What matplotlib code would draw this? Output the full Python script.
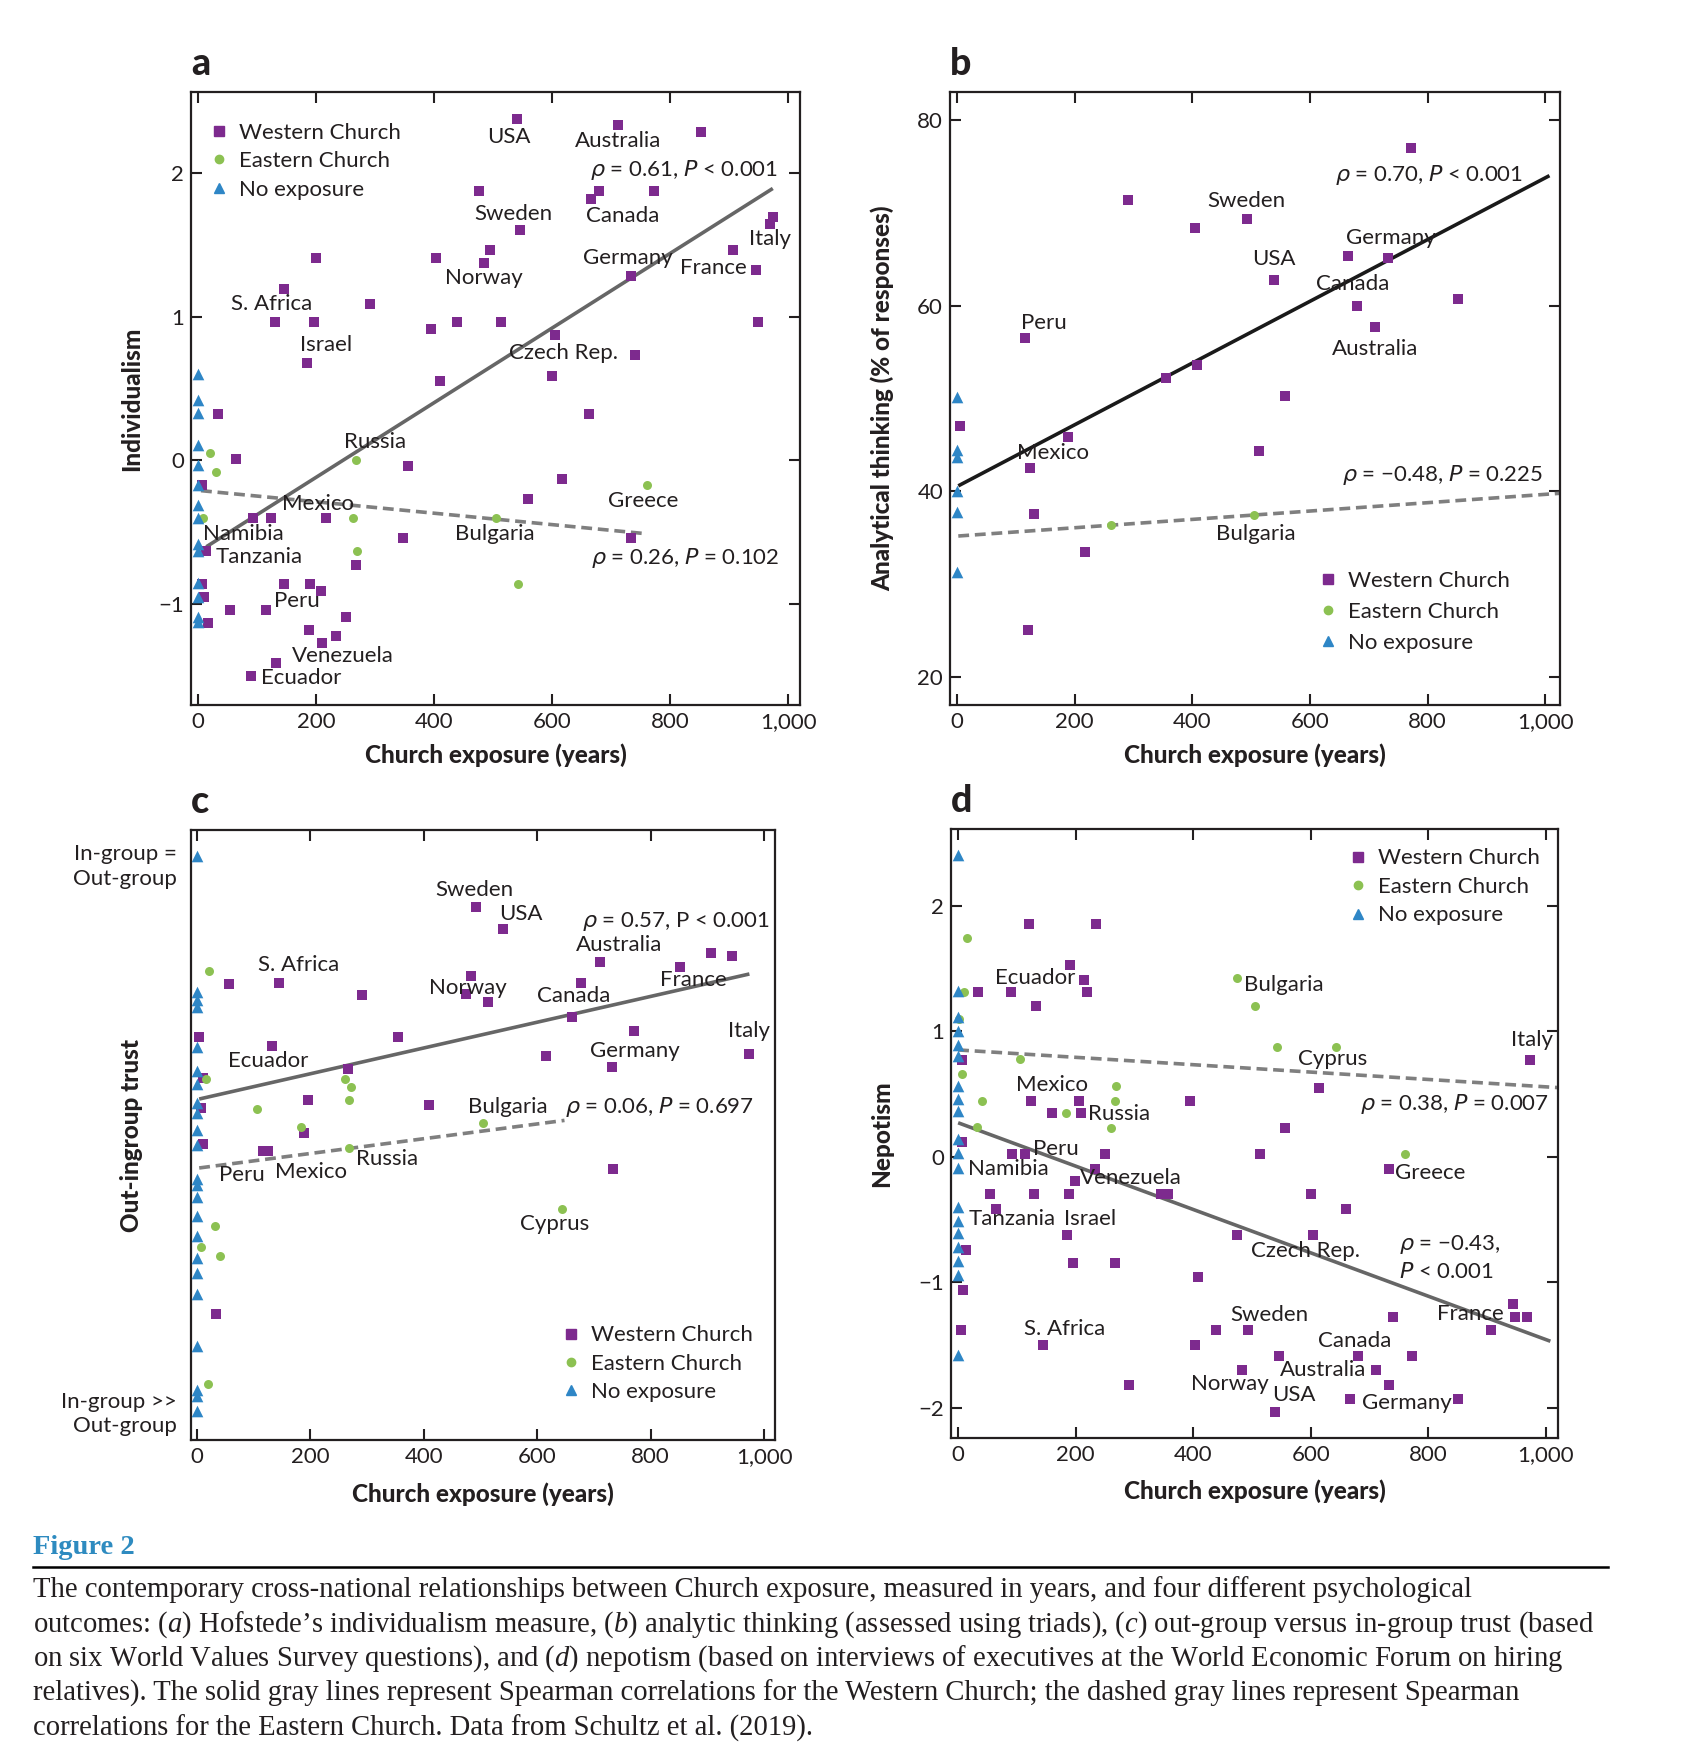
import numpy as np
import matplotlib
matplotlib.use("Agg")
import matplotlib.pyplot as plt
from matplotlib.lines import Line2D

plt.rcParams['font.family'] = ['Lato', 'DejaVu Sans']
plt.rcParams['mathtext.fontset'] = 'custom'
plt.rcParams['mathtext.rm'] = 'Liberation Serif'
plt.rcParams['mathtext.it'] = 'Liberation Serif:italic'

PURPLE = '#7d2a8e'
GREEN = '#8cc152'
BLUE = '#2e86c6'
INK = '#231f20'

# ---- panel a: individualism ----
a_west_x = [540, 712, 853, 476, 666, 680, 773, 546, 975, 970, 200, 404, 494, 485, 907, 945,
            733, 145, 291, 130, 196, 439, 514, 394, 949, 605, 741, 184, 600, 410, 33, 663,
            64, 356, 7, 616, 560, 93, 124, 216, 347, 734, 14, 267, 6, 145, 190, 208, 10,
            54, 116, 17, 250, 188, 233, 210, 132, 90]
a_west_y = [2.37, 2.33, 2.28, 1.87, 1.82, 1.87, 1.87, 1.60, 1.69, 1.64, 1.41, 1.41, 1.46, 1.37,
            1.46, 1.32, 1.28, 1.19, 1.09, 0.96, 0.96, 0.96, 0.96, 0.91, 0.96, 0.87, 0.73, 0.68,
            0.59, 0.55, 0.32, 0.32, 0.01, -0.04, -0.17, -0.13, -0.27, -0.40, -0.40, -0.40,
            -0.54, -0.54, -0.63, -0.73, -0.86, -0.86, -0.86, -0.91, -0.95, -1.04, -1.04,
            -1.13, -1.09, -1.18, -1.22, -1.27, -1.41, -1.50]
a_east_x = [21, 31, 8, 267, 262, 270, 505, 543, 761]
a_east_y = [0.05, -0.08, -0.40, 0.0, -0.40, -0.63, -0.40, -0.86, -0.17]
a_none_y = [0.60, 0.42, 0.33, 0.11, -0.03, -0.17, -0.31, -0.40, -0.58, -0.63, -0.85, -0.95,
            -1.09, -1.12]
a_fit_west = ([14, 974], [-0.60, 1.89])
a_fit_east = ([5, 761], [-0.21, -0.51])
a_labels = [('USA', 526, 2.25), ('Australia', 712, 2.22), ('Sweden', 534, 1.71),
            ('Canada', 719, 1.70), ('Italy', 970, 1.54), ('Germany', 728, 1.41),
            ('France', 874, 1.34), ('Norway', 484, 1.27), ('S. Africa', 124, 1.09),
            ('Israel', 217, 0.80), ('Czech Rep.', 619, 0.75), ('Russia', 300, 0.13),
            ('Greece', 754, -0.28), ('Mexico', 204, -0.30), ('Namibia', 77, -0.51),
            ('Bulgaria', 503, -0.51), ('Tanzania', 103, -0.67), ('Peru', 167, -0.98),
            ('Venezuela', 245, -1.36), ('Ecuador', 175, -1.51)]

# ---- panel b: analytic thinking ----
b_west_x = [771, 290, 404, 493, 665, 732, 538, 679, 851, 711, 115, 355, 408, 558, 5, 189,
            513, 124, 130, 217, 120]
b_west_y = [77.0, 71.4, 68.4, 69.3, 65.4, 65.1, 62.8, 60.0, 60.7, 57.7, 56.5, 52.2, 53.6,
            50.3, 47.0, 45.9, 44.4, 42.5, 37.6, 33.5, 25.1]
b_east_x = [262, 505]
b_east_y = [36.4, 37.5]
b_none_y = [50.2, 44.5, 43.7, 40.0, 37.8, 31.3]
b_fit_west = ([2, 1007], [40.6, 74.0])
b_fit_east = ([2, 1025], [35.2, 39.8])
b_labels = [('Sweden', 491, 71.3), ('Germany', 737, 67.3), ('USA', 539, 65.0),
            ('Canada', 673, 62.3), ('Peru', 148, 58.1), ('Australia', 710, 55.3),
            ('Mexico', 163, 44.1), ('Bulgaria', 508, 35.4)]

# ---- panel c: out-ingroup trust (0 = in-group >> out-group, 1 = equal) ----
c_west_x = [492, 539, 710, 907, 944, 852, 484, 678, 56, 145, 291, 474, 514, 662, 4, 355, 771,
            133, 974, 616, 732, 267, 10, 196, 8, 410, 189, 10, 116, 125, 734, 33]
c_west_y = [0.874, 0.838, 0.784, 0.798, 0.794, 0.776, 0.761, 0.750, 0.748, 0.750, 0.730,
            0.731, 0.718, 0.694, 0.661, 0.661, 0.670, 0.646, 0.633, 0.630, 0.611, 0.608,
            0.594, 0.557, 0.545, 0.549, 0.504, 0.486, 0.474, 0.474, 0.444, 0.206]
c_east_x = [22, 16, 261, 271, 268, 106, 183, 505, 268, 643, 32, 7, 40, 19]
c_east_y = [0.769, 0.592, 0.592, 0.578, 0.558, 0.542, 0.513, 0.519, 0.478, 0.378, 0.351,
            0.316, 0.301, 0.092]
c_none_y = [0.958, 0.735, 0.722, 0.710, 0.644, 0.605, 0.584, 0.552, 0.536, 0.508, 0.484,
            0.428, 0.418, 0.399, 0.367, 0.334, 0.299, 0.274, 0.240, 0.154, 0.082, 0.072, 0.047]
c_fit_west = ([4, 974], [0.559, 0.764])
c_fit_east = ([4, 648], [0.446, 0.524])
c_labels = [('Sweden', 489, 0.902), ('USA', 571, 0.862), ('Australia', 745, 0.812),
            ('S. Africa', 180, 0.778), ('Norway', 478, 0.741), ('Canada', 664, 0.728),
            ('France', 875, 0.754), ('Italy', 973, 0.671), ('Germany', 772, 0.638),
            ('Ecuador', 126, 0.621), ('Bulgaria', 548, 0.546), ('Russia', 335, 0.460),
            ('Mexico', 201, 0.440), ('Peru', 80, 0.434), ('Cyprus', 631, 0.354)]

# ---- panel d: nepotism ----
d_west_x = [121, 235, 191, 215, 33, 90, 220, 132, 974, 6, 614, 124, 206, 394, 159, 209, 557,
            7, 92, 114, 250, 514, 233, 199, 733, 54, 129, 188, 345, 357, 601, 65, 661, 185,
            475, 604, 13, 196, 267, 409, 8, 944, 740, 948, 969, 5, 439, 493, 907, 145, 404,
            546, 680, 773, 484, 711, 291, 733, 667, 851, 539]
d_west_y = [1.85, 1.85, 1.53, 1.41, 1.31, 1.31, 1.31, 1.20, 0.77, 0.77, 0.55, 0.44, 0.44,
            0.44, 0.35, 0.35, 0.23, 0.12, 0.02, 0.02, 0.02, 0.02, -0.10, -0.19, -0.10, -0.30,
            -0.30, -0.30, -0.30, -0.30, -0.30, -0.42, -0.42, -0.62, -0.62, -0.62, -0.74,
            -0.85, -0.85, -0.96, -1.06, -1.17, -1.28, -1.28, -1.28, -1.38, -1.38, -1.38,
            -1.38, -1.50, -1.50, -1.59, -1.59, -1.59, -1.70, -1.70, -1.82, -1.82, -1.93,
            -1.93, -2.03]
d_east_x = [15, 10, 2, 475, 506, 542, 643, 106, 6, 269, 40, 267, 183, 261, 32, 760]
d_east_y = [1.74, 1.31, 1.10, 1.42, 1.20, 0.87, 0.87, 0.78, 0.66, 0.56, 0.44, 0.44, 0.35,
            0.23, 0.24, 0.02]
d_none_y = [2.40, 1.32, 1.11, 1.00, 0.89, 0.80, 0.56, 0.46, 0.36, 0.14, 0.03, -0.09, -0.40,
            -0.51, -0.61, -0.72, -0.83, -0.94, -1.58]
d_fit_west = ([0, 1008], [0.27, -1.47])
d_fit_east = ([0, 1021], [0.85, 0.55])
d_labels = [('Ecuador', 131, 1.42), ('Bulgaria', 555, 1.37), ('Italy', 976, 0.93),
            ('Cyprus', 637, 0.78), ('Mexico', 159, 0.57), ('Russia', 274, 0.34),
            ('Peru', 166, 0.06), ('Namibia', 86, -0.10), ('Venezuela', 294, -0.17),
            ('Greece', 803, -0.13), ('Tanzania', 92, -0.50), ('Israel', 224, -0.50),
            ('Czech Rep.', 592, -0.75), ('Sweden', 530, -1.26), ('France', 872, -1.25),
            ('S. Africa', 181, -1.37), ('Canada', 675, -1.47), ('Australia', 622, -1.70),
            ('Norway', 463, -1.81), ('USA', 572, -1.90), ('Germany', 763, -1.96)]

xticks = [0, 200, 400, 600, 800, 1000]
xticklabels = ['0', '200', '400', '600', '800', '1,000']

FS = 16
LABEL_W = 'black'


def draw_panel(ax, wx, wy, ex, ey, ny, fit_w, fit_e, labels, west_color='#666666'):
    ax.plot(fit_w[0], fit_w[1], color=west_color, lw=2.6, solid_capstyle='butt', zorder=2)
    ax.plot(fit_e[0], fit_e[1], color='#7f7f7f', lw=2.6, ls=(0, (3, 1.6)), zorder=2)
    ax.scatter(wx, wy, marker='s', s=62, color=PURPLE, linewidths=0, zorder=3)
    ax.scatter(ex, ey, marker='o', s=42, color=GREEN, linewidths=0, zorder=3)
    ax.scatter(np.zeros(len(ny)), ny, marker='^', s=70, color=BLUE, linewidths=0, zorder=3)
    for t, x, y in labels:
        ax.text(x, y, t, ha='center', va='center', fontsize=FS, color=INK, zorder=4)
    ax.set_xlim(-12, 1020)
    ax.set_xticks(xticks)
    ax.set_xticklabels(xticklabels)
    ax.tick_params(direction='in', length=8, width=1.5, labelsize=FS, colors=INK,
                   top=True, right=True, pad=5)
    for s in ax.spines.values():
        s.set_linewidth(1.6)
        s.set_color(INK)
    ax.set_xlabel('Church exposure (years)', fontsize=17.5, fontweight=LABEL_W, color=INK)


def add_legend(ax, x, y, spacing=0.38):
    handles = [Line2D([], [], ls='none', marker='s', ms=7, color=PURPLE),
               Line2D([], [], ls='none', marker='o', ms=6, color=GREEN),
               Line2D([], [], ls='none', marker='^', ms=7.5, color=BLUE)]
    ax.legend(handles, ['Western Church', 'Eastern Church', 'No exposure'],
              loc='upper left', bbox_to_anchor=(x, y), frameon=False, fontsize=FS,
              handlelength=0.6, handletextpad=0.6, labelspacing=spacing, borderpad=0,
              borderaxespad=0, labelcolor=INK)


def stat(ax, x, y, s, ha='left'):
    ax.text(x, y, s, ha=ha, va='center', fontsize=FS, color=INK, math_fontfamily='dejavusans')


fig = plt.figure(figsize=(17.02, 17.6), dpi=100)
axa = fig.add_axes([0.1122, 0.5994, 0.3578, 0.3483])
axb = fig.add_axes([0.5582, 0.5994, 0.3584, 0.3483])
axc = fig.add_axes([0.1122, 0.1818, 0.3431, 0.3466])
axd = fig.add_axes([0.5588, 0.1830, 0.3566, 0.3460])

# a
draw_panel(axa, a_west_x, a_west_y, a_east_x, a_east_y, a_none_y, a_fit_west, a_fit_east, a_labels)
axa.set_ylim(-1.70, 2.56)
axa.set_yticks([-1, 0, 1, 2])
axa.set_ylabel('Individualism', fontsize=17.5, fontweight=LABEL_W, color=INK)
axa.yaxis.set_label_coords(-0.078, 0.5)
axa.xaxis.set_label_coords(0.5, -0.062)
stat(axa, 983, 2.02, r'$\rho$ = 0.61, $P$ < 0.001', ha='right')
stat(axa, 985, -0.68, r'$\rho$ = 0.26, $P$ = 0.102', ha='right')
add_legend(axa, 0.035, 0.950)

# b
draw_panel(axb, b_west_x, b_west_y, b_east_x, b_east_y, b_none_y, b_fit_west, b_fit_east, b_labels,
           west_color='#1a1a1a')
axb.set_xlim(-12, 1025)
axb.set_ylim(17.0, 83.0)
axb.set_yticks([20, 40, 60, 80])
axb.set_ylabel('Analytical thinking (% of responses)', fontsize=17.5, fontweight=LABEL_W,
               color=INK)
axb.yaxis.set_label_coords(-0.092, 0.5)
axb.xaxis.set_label_coords(0.5, -0.062)
stat(axb, 642, 74.1, r'$\rho$ = 0.70, $P$ < 0.001')
stat(axb, 655, 41.8, r'$\rho$ = −0.48, $P$ = 0.225')
add_legend(axb, 0.608, 0.219, spacing=0.5)

# c
draw_panel(axc, c_west_x, c_west_y, c_east_x, c_east_y, c_none_y, c_fit_west, c_fit_east, c_labels)
axc.set_xlim(-10.5, 1019)
axc.set_ylim(0, 1)
axc.set_yticks([0.948, 0.05])
axc.set_yticklabels(['In-group =\nOut-group', 'In-group >>\nOut-group'], ha='right',
                    linespacing=1.3)
axc.tick_params(axis='y', length=0, right=False, pad=10)
axc.set_ylabel('Out-ingroup trust', fontsize=17.5, fontweight=LABEL_W, color=INK)
axc.yaxis.set_label_coords(-0.082, 0.5)
axc.xaxis.set_label_coords(0.5, -0.07)
stat(axc, 1010, 0.850, r'$\rho$ = 0.57, P < 0.001', ha='right')
stat(axc, 816, 0.546, r'$\rho$ = 0.06, $P$ = 0.697', ha='center')
add_legend(axc, 0.64, 0.188)

# d
draw_panel(axd, d_west_x, d_west_y, d_east_x, d_east_y, d_none_y, d_fit_west, d_fit_east, d_labels)
axd.set_xlim(-12, 1021)
axd.set_ylim(-2.24, 2.61)
axd.set_yticks([-2, -1, 0, 1, 2])
axd.set_ylabel('Nepotism', fontsize=17.5, fontweight=LABEL_W, color=INK)
axd.yaxis.set_label_coords(-0.095, 0.5)
axd.xaxis.set_label_coords(0.5, -0.068)
stat(axd, 844, 0.42, r'$\rho$ = 0.38, $P$ = 0.007', ha='center')
stat(axd, 751, -0.70, r'$\rho$ = −0.43,')
stat(axd, 751, -0.92, r'$P$ < 0.001')
add_legend(axd, 0.66, 0.968)

for ax, letter in [(axa, 'a'), (axb, 'b'), (axc, 'c'), (axd, 'd')]:
    ax.text(0.0, 1.018, letter, transform=ax.transAxes, fontsize=27, fontweight=LABEL_W,
            color=INK, ha='left', va='bottom')

# caption
serif = ['Liberation Serif', 'DejaVu Serif']
fig.text(0.0195, 1 - 1547 / 1760, 'Figure 2', family=serif, fontsize=20.5, fontweight='bold',
         color='#2e8bc0', va='center')
fig.add_artist(Line2D([33 / 1702, 1608 / 1702], [1 - 1567 / 1760, 1 - 1567 / 1760],
                      color='black', lw=1.8))
caption = [
    'The contemporary cross-national relationships between Church exposure, measured in years, and four different psychological',
    r"outcomes: ($\mathit{a}$) Hofstede’s individualism measure, ($\mathit{b}$) analytic thinking (assessed using triads), ($\mathit{c}$) out-group versus in-group trust (based",
    r'on six World Values Survey questions), and ($\mathit{d}$) nepotism (based on interviews of executives at the World Economic Forum on hiring',
    'relatives). The solid gray lines represent Spearman correlations for the Western Church; the dashed gray lines represent Spearman',
    'correlations for the Eastern Church. Data from Schultz et al. (2019).',
]
for i, line in enumerate(caption):
    fig.text(0.0195, 1 - (1590 + 34.5 * i) / 1760, line, family=serif, fontsize=20.6,
             color=INK, va='center', math_fontfamily='custom')

fig.savefig('out.png', dpi=100, facecolor='white')
